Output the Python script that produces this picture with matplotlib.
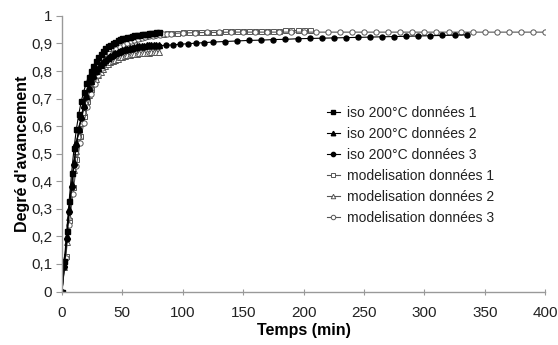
import matplotlib
matplotlib.use("Agg")
import matplotlib.pyplot as plt
from matplotlib.ticker import FuncFormatter

plt.rcParams['font.family'] = ['Liberation Sans', 'DejaVu Sans']

# ---- data ----
t_short = [0, 2, 4, 6, 8, 10, 12, 14, 16, 18, 20, 22, 24, 26, 28, 30, 32, 34, 36, 38, 40,
           42, 44, 46, 48, 50, 52, 54, 56, 58, 60, 62, 64, 66, 68, 70, 72, 74, 76, 78, 80]

iso1 = [0.0, 0.11, 0.22, 0.33, 0.43, 0.52, 0.59, 0.645, 0.69, 0.725, 0.755, 0.78, 0.80, 0.818,
        0.835, 0.85, 0.862, 0.873, 0.882, 0.89, 0.896, 0.902, 0.907, 0.911, 0.915, 0.918, 0.921,
        0.923, 0.925, 0.927, 0.929, 0.931, 0.932, 0.934, 0.935, 0.936, 0.937, 0.938, 0.939, 0.94, 0.94]

iso2 = [0.0, 0.10, 0.20, 0.30, 0.39, 0.47, 0.54, 0.59, 0.635, 0.675, 0.71, 0.74, 0.765, 0.785,
        0.80, 0.812, 0.823, 0.833, 0.841, 0.848, 0.855, 0.86, 0.865, 0.869, 0.873, 0.876, 0.879,
        0.881, 0.883, 0.885, 0.887, 0.889, 0.89, 0.891, 0.892, 0.893, 0.894, 0.895, 0.895, 0.896, 0.896]

t_iso3 = t_short + [86, 92, 98, 104, 111, 118, 125, 135, 145, 155, 165, 175, 185, 195, 205, 215,
                    225, 235, 245, 255, 265, 275, 285, 295, 305, 315, 325, 335]
iso3 = [0.0, 0.09, 0.19, 0.29, 0.38, 0.46, 0.53, 0.585, 0.63, 0.67, 0.705, 0.735, 0.76, 0.78,
        0.795, 0.808, 0.82, 0.83, 0.838, 0.845, 0.851, 0.856, 0.861, 0.865, 0.869, 0.872, 0.875,
        0.877, 0.879, 0.881, 0.883, 0.885, 0.886, 0.887, 0.888, 0.889, 0.89, 0.89, 0.891, 0.891, 0.892,
        0.893, 0.895, 0.897, 0.899, 0.901, 0.903, 0.905, 0.907, 0.909, 0.911, 0.912, 0.914, 0.915,
        0.917, 0.918, 0.919, 0.92, 0.921, 0.922, 0.923, 0.924, 0.925, 0.926, 0.927, 0.928, 0.929,
        0.93, 0.931]

t_mod1 = [0, 3, 6, 9, 12, 15, 18, 21, 24, 27, 30, 33, 36, 39, 42, 45, 48, 51, 54, 57, 60, 63,
          66, 69, 72, 75, 78, 81, 84, 87, 90, 95, 100, 105, 110, 115, 120, 125, 130, 135, 140,
          145, 150, 155, 160, 165, 170, 175, 180, 185, 190, 195, 200, 205]
mod1 = [0.0, 0.13, 0.26, 0.38, 0.48, 0.565, 0.635, 0.69, 0.735, 0.772, 0.803, 0.828, 0.848,
        0.864, 0.877, 0.887, 0.895, 0.902, 0.908, 0.913, 0.917, 0.921, 0.924, 0.927, 0.929, 0.931,
        0.933, 0.935, 0.936, 0.937, 0.938, 0.939, 0.94, 0.941, 0.941, 0.942, 0.942, 0.943, 0.943,
        0.944, 0.944, 0.944, 0.945, 0.945, 0.945, 0.946, 0.946, 0.946, 0.946, 0.947, 0.947, 0.947,
        0.947, 0.947]

mod2 = [0.0, 0.09, 0.18, 0.27, 0.36, 0.44, 0.51, 0.565, 0.61, 0.65, 0.685, 0.712, 0.735, 0.755,
        0.772, 0.786, 0.798, 0.808, 0.817, 0.824, 0.831, 0.836, 0.841, 0.845, 0.849, 0.852, 0.855,
        0.857, 0.859, 0.861, 0.862, 0.863, 0.864, 0.865, 0.866, 0.867, 0.867, 0.868, 0.868, 0.868, 0.869]

t_mod3 = [0, 3, 6, 9, 12, 15, 18, 21, 24, 27, 30, 33, 36, 39, 42, 45, 48, 51, 54, 57, 60, 63,
          66, 69, 72, 75, 78, 81, 84, 87, 90, 100, 110, 120, 130, 140, 150, 160, 170, 180, 190,
          200, 210, 220, 230, 240, 250, 260, 270, 280, 290, 300, 310, 320, 330, 340, 350, 360,
          370, 380, 390, 400]
mod3 = [0.0, 0.12, 0.24, 0.355, 0.455, 0.54, 0.61, 0.668, 0.715, 0.754, 0.786, 0.812, 0.834,
        0.852, 0.866, 0.878, 0.888, 0.896, 0.902, 0.908, 0.913, 0.917, 0.92, 0.923, 0.926, 0.928,
        0.93, 0.932, 0.933, 0.935, 0.936, 0.938, 0.939, 0.94, 0.94, 0.941, 0.941, 0.941, 0.941,
        0.941, 0.941, 0.941, 0.941, 0.941, 0.941, 0.941, 0.941, 0.941, 0.941, 0.941, 0.941, 0.941,
        0.941, 0.941, 0.941, 0.941, 0.941, 0.941, 0.941, 0.941, 0.941, 0.941]

labels = ["iso 200°C données 1", "iso 200°C données 2", "iso 200°C données 3",
          "modelisation données 1", "modelisation données 2", "modelisation données 3"]

x_ticks = [0, 50, 100, 150, 200, 250, 300, 350, 400]
y_ticks = [0, 0.1, 0.2, 0.3, 0.4, 0.5, 0.6, 0.7, 0.8, 0.9, 1.0]

# ---- plot ----
fig = plt.figure(figsize=(5.58, 3.45), dpi=100)
ax = fig.add_axes([0.111, 0.155, 0.866, 0.799])

lw = 0.8
open_col = '#555555'
h4, = ax.plot(t_mod1, mod1, color=open_col, lw=lw, marker='s', ms=3.6, mfc='white',
              mec=open_col, mew=0.7, label=labels[3])
h5, = ax.plot(t_short, mod2, color=open_col, lw=lw, marker='^', ms=3.8, mfc='white',
              mec=open_col, mew=0.7, label=labels[4])
h6, = ax.plot(t_mod3, mod3, color=open_col, lw=lw, marker='o', ms=3.8, mfc='white',
              mec=open_col, mew=0.7, label=labels[5])
h1, = ax.plot(t_short, iso1, color='black', lw=lw, marker='s', ms=3.6, mfc='black',
              mec='black', label=labels[0])
h2, = ax.plot(t_short, iso2, color='black', lw=lw, marker='^', ms=3.8, mfc='black',
              mec='black', label=labels[1])
h3, = ax.plot(t_iso3, iso3, color='black', lw=lw, marker='o', ms=3.6, mfc='black',
              mec='black', label=labels[2])

ax.set_xlim(0, 400)
ax.set_ylim(0, 1)
ax.set_xticks(x_ticks)
ax.set_yticks(y_ticks)
ax.yaxis.set_major_formatter(FuncFormatter(lambda v, p: ('%g' % round(v, 1)).replace('.', ',')))

for s in ['top', 'right']:
    ax.spines[s].set_visible(False)
for s in ['left', 'bottom']:
    ax.spines[s].set_color('#999999')
    ax.spines[s].set_linewidth(1.0)
ax.tick_params(axis='x', direction='inout', length=5, color='#999999', labelsize=11,
               labelcolor='#222222', pad=8)
ax.tick_params(axis='y', direction='out', length=4, color='#999999', labelsize=11,
               labelcolor='#222222', pad=3)

ax.set_xlabel('Temps (min)', fontsize=11.5, fontweight='bold', labelpad=2)
ax.set_ylabel("Degré d'avancement", fontsize=11.5, fontweight='bold', labelpad=1)

leg = ax.legend(handles=[h1, h2, h3, h4, h5, h6], loc='upper left',
                bbox_to_anchor=(0.549, 0.672), frameon=False, fontsize=10,
                handlelength=0.9, handletextpad=0.5, labelspacing=0.5, markerscale=0.85,
                borderpad=0, borderaxespad=0)
for txt in leg.get_texts():
    txt.set_color('#222222')

fig.savefig('out.png', dpi=100)
